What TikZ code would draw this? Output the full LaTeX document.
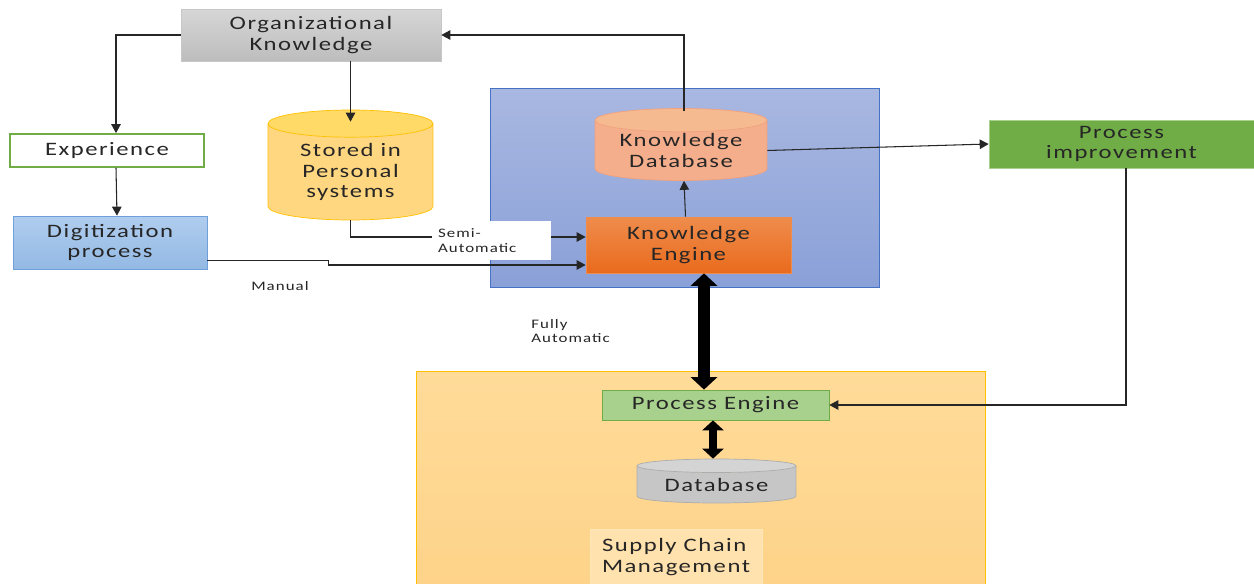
\documentclass[tikz,border=0pt]{standalone}
\usepackage{fontspec}
\setmainfont{Carlito}[FakeStretch=1.3,LetterSpace=8]
\usetikzlibrary{arrows.meta,shapes.geometric}
\definecolor{lineblk}{HTML}{262626}
\definecolor{orgtop}{HTML}{D6D6D6}
\definecolor{orgbot}{HTML}{BDBDBD}
\definecolor{grnedge}{HTML}{70AD47}
\definecolor{grnlight}{HTML}{A9D18E}
\definecolor{digitop}{HTML}{B0CDEE}
\definecolor{digibot}{HTML}{93B9E4}
\definecolor{digiedge}{HTML}{6FA0DC}
\definecolor{ylwbody}{HTML}{FFD780}
\definecolor{ylwend}{HTML}{FFDA66}
\definecolor{ylwedge}{HTML}{FFC000}
\definecolor{kbtop}{HTML}{A9B8E1}
\definecolor{kbbot}{HTML}{8AA0D8}
\definecolor{kbedge}{HTML}{4472C4}
\definecolor{kdbbody}{HTML}{F4AE8C}
\definecolor{kdbend}{HTML}{F6BA91}
\definecolor{kdbedge}{HTML}{F3A27C}
\definecolor{engtop}{HTML}{EF8C4C}
\definecolor{engbot}{HTML}{E96B1D}
\definecolor{scmtop}{HTML}{FFDB99}
\definecolor{scmbot}{HTML}{FED389}
\definecolor{dbbody}{HTML}{C6C6C6}
\definecolor{dbend}{HTML}{D4D4D4}
\definecolor{dbedge}{HTML}{ADADAD}

\begin{document}
\begin{tikzpicture}[x=0.02cm,y=-0.02cm,
    box/.style={draw,align=center,inner sep=0pt,text=lineblk,
      font=\fontsize{10.8}{11.6}\selectfont},
    cyl/.style={box,cylinder,shape border rotate=90,
      cylinder uses custom fill,anchor=shape center},
    area/.style={draw,inner sep=0pt},
    lbl/.style={inner sep=0pt,align=left,text=lineblk,
      font=\fontsize{7.4}{8.2}\selectfont},
    arr/.style={-{Triangle[length=1.8mm,width=1.9mm]},line width=0.6pt,draw=lineblk},
    bigdbl/.style={{Triangle[length=2.5mm,width=5.2mm]}-{Triangle[length=2.5mm,width=5.2mm]},
      line width=6.8pt},
    smalldbl/.style={{Triangle[length=2mm,width=4.2mm]}-{Triangle[length=2mm,width=4.2mm]},
      line width=4.5pt}]
 \useasboundingbox[fill=white] (0,0) rectangle (1254,584);
 % background areas
 \node[area,draw=kbedge,top color=kbtop,bottom color=kbbot,
   minimum width=7.78cm,minimum height=3.98cm] (kbarea) at (684.5,187.5) {};
 \node[area,draw=ylwedge,top color=scmtop,bottom color=scmbot,
   minimum width=11.38cm,minimum height=4.34cm] (scmarea) at (700.5,479.5) {};
 % nodes
 \node[box,draw=orgbot!85,top color=orgtop,bottom color=orgbot,
   minimum width=5.2cm,minimum height=1.04cm] (org) at (311,35) {Organizational\\Knowledge};
 \node[box,draw=grnedge,line width=1pt,fill=white,
   minimum width=3.88cm,minimum height=0.66cm] (exp) at (107,150.5) {Experience};
 \node[box,draw=digiedge,top color=digitop,bottom color=digibot,
   minimum width=3.88cm,minimum height=1.06cm] (digi) at (110,242.5) {Digitization\\process};
 \node[cyl,draw=ylwedge,cylinder body fill=ylwbody,cylinder end fill=ylwend,aspect=0.27,
   minimum width=3.3cm,minimum height=2.2cm] (stored) at (350.5,165) {Stored in\\Personal\\systems};
 \node[cyl,draw=kdbedge,cylinder body fill=kdbbody,cylinder end fill=kdbend,aspect=0.19,
   minimum width=3.44cm,minimum height=1.44cm] (kdb) at (681,144.5) {Knowledge\\Database};
 \node[box,draw=engtop,top color=engtop,bottom color=engbot,
   minimum width=4.1cm,minimum height=1.12cm] (keng) at (688.5,245) {Knowledge\\Engine};
 \node[box,draw=grnlight,fill=grnedge,
   minimum width=5.3cm,minimum height=0.96cm] (procimp) at (1121.5,144) {Process\\improvement};
 \node[box,draw=grnedge,fill=grnlight,
   minimum width=4.54cm,minimum height=0.6cm] (peng) at (715.5,405) {Process Engine};
 \node[cyl,draw=dbedge,cylinder body fill=dbbody,cylinder end fill=dbend,aspect=0.13,
   minimum width=3.18cm,minimum height=0.88cm] (db) at (716.5,481) {Database};
 \node[box,align=left,draw=scmtop!70!white,fill=scmtop!80!white,
   minimum width=3.44cm,minimum height=1.1cm] (scmlbl) at (676,557) {Supply Chain\\Management};
 % connectors
 \draw[arr] (org.west) -| ([xshift=0.18cm]exp.north);
 \draw[arr] (org.south -| stored.north) -- ([yshift=-0.24cm]stored.north);
 \draw[arr] ([xshift=0.18cm]exp.south) -- ([xshift=0.14cm]digi.north);
 \draw[arr] (stored.south) |- ([yshift=0.16cm]keng.west);
 \draw[arr] ([yshift=-0.36cm]digi.east) -- ++(121,0) |- ([yshift=-0.4cm]keng.west);
 \draw[arr] ([xshift=-0.06cm]keng.north) -- ([xshift=0.06cm]kdb.south);
 \draw[arr] ([xshift=0.06cm,yshift=-0.06cm]kdb.north) |- (org.east);
 \draw[arr] (kdb.east) -- (procimp.west);
 \draw[arr] ([xshift=0.09cm]procimp.south) |- (peng.east);
 \draw[bigdbl] ([xshift=0.31cm]keng.south) -- ([xshift=0.31cm]keng.south |- peng.north);
 \draw[smalldbl] ([xshift=-0.05cm]peng.south) -- ([xshift=-0.05cm]peng.south |- db.north);
 % labels
 \node[lbl,fill=white,text width=2.14cm,inner xsep=0.12cm,
   minimum height=0.78cm] (semi) at (491.5,240.5) {Semi-\\Automatic};
 \node[lbl] (manual) at (280,286) {Manual};
 \node[lbl,anchor=west] (fully) at (531,331) {Fully\\Automatic};
\end{tikzpicture}
\end{document}
